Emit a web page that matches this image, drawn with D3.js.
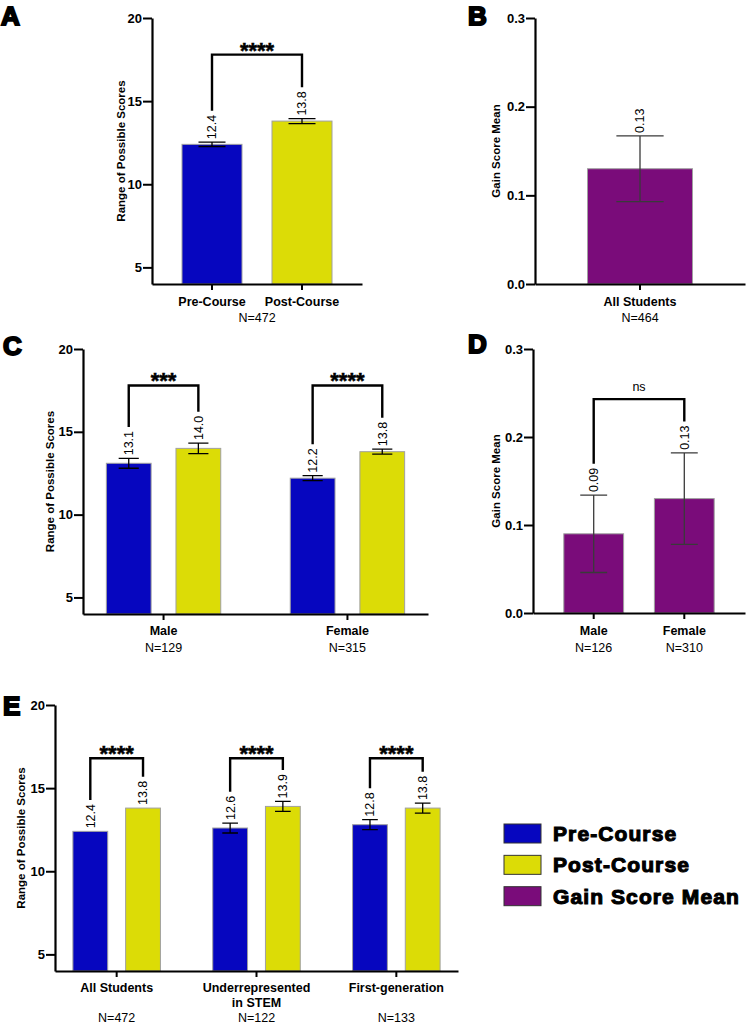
<!DOCTYPE html>
<html><head><meta charset="utf-8">
<script src="https://cdn.jsdelivr.net/npm/d3@7"></script>
<style>body{margin:0;background:#fff}svg{display:block}</style>
</head><body><svg id="chart" width="746" height="1024"></svg>
<script>
// ---------- DATA ----------
const scoreTicks = [5, 10, 15, 20];
const gainTicks = [0, 0.1, 0.2, 0.3];

// Panel A
const aCategories = ["Pre-Course", "Post-Course"];
const aMeans = [12.4, 13.8];
const aErrors = [0.13, 0.15];
const aSig = "****";
const aN = "N=472";

// Panel B
const bCategories = ["All Students"];
const bMeans = [0.13];
const bErrors = [0.037];
const bN = "N=464";

// Panel C
const cGroups = ["Male", "Female"];
const cPre = [13.1, 12.2];
const cPost = [14.0, 13.8];
const cPreErr = [0.3, 0.15];
const cPostErr = [0.32, 0.15];
const cSig = ["***", "****"];
const cN = ["N=129", "N=315"];

// Panel D
const dGroups = ["Male", "Female"];
const dMeans = [0.09, 0.13];
const dErrors = [0.044, 0.052];
const dSig = "ns";
const dN = ["N=126", "N=310"];

// Panel E
const eGroups = ["All Students", "Underrepresented\nin STEM", "First-generation"];
const ePre = [12.4, 12.6, 12.8];
const ePost = [13.8, 13.9, 13.8];
const ePreErr = [0, 0.3, 0.3];
const ePostErr = [0, 0.3, 0.3];
const eSig = ["****", "****", "****"];
const eN = ["N=472", "N=122", "N=133"];

// Legend
const legendItems = ["Pre-Course", "Post-Course", "Gain Score Mean"];

// ---------- STYLE ----------
const BLUE = "#0606BF", YELLOW = "#DCDC06", PURPLE = "#7A0C7A";
const FONT = "'Liberation Sans', Arial, sans-serif";
const svg = d3.select("#chart");
const fmt1 = d3.format(".1f"), fmt2 = d3.format(".2f");

function yAxis(x0, y, ticks, tf, title, titleOffset) {
  const g = svg.append("g").attr("transform", `translate(${x0},0)`)
    .call(d3.axisLeft(y).tickValues(ticks).tickFormat(tf).tickSize(9).tickSizeOuter(0).tickPadding(1));
  g.select(".domain").attr("stroke", "#000").attr("stroke-width", 2.2);
  g.selectAll(".tick line").attr("stroke", "#000").attr("stroke-width", 2);
  g.selectAll(".tick text").attr("font-family", FONT).attr("font-weight", "bold").attr("font-size", 13).attr("fill", "#000");
  const [b, t] = y.range();
  svg.append("text").attr("transform", `translate(${x0 + titleOffset},${(b + t) / 2}) rotate(-90)`)
    .attr("text-anchor", "middle").attr("dy", "0.35em")
    .attr("font-family", FONT).attr("font-weight", "bold").attr("font-size", 11.5).text(title);
}
function xAxis(yb, band) {
  const g = svg.append("g").attr("transform", `translate(0,${yb})`)
    .call(d3.axisBottom(band).tickSize(6).tickSizeOuter(0).tickFormat(""));
  g.select(".domain").attr("stroke", "#000").attr("stroke-width", 2.2);
  g.selectAll(".tick line").attr("stroke", "#000").attr("stroke-width", 2);
}
function catLabel(x, yb, text, bold, size) {
  const lines = text.split("\n");
  const t = svg.append("text").attr("x", x).attr("y", yb).attr("text-anchor", "middle")
    .attr("font-family", FONT).attr("font-weight", bold ? "bold" : "normal").attr("font-size", size || 12.5);
  lines.forEach((l, i) => t.append("tspan").attr("x", x).attr("dy", i ? 15 : 0).text(l));
}
// draws bar + error bar + rotated value label; returns label top y
function bar(x, w, y, v, e, color, fmt, errColor) {
  const y0 = y.range()[0];
  svg.append("rect").attr("x", x).attr("y", y(v)).attr("width", w).attr("height", y0 - y(v))
    .attr("fill", color).attr("stroke", "#a0a0a0").attr("stroke-width", 1);
  const cx = x + w / 2, cw = w * 0.45;
  if (e > 0) {
    const ec = errColor || "#000";
    const p = d3.path();
    p.moveTo(cx, y(v - e)); p.lineTo(cx, y(v + e));
    p.moveTo(cx - cw / 2, y(v + e)); p.lineTo(cx + cw / 2, y(v + e));
    p.moveTo(cx - cw / 2, y(v - e)); p.lineTo(cx + cw / 2, y(v - e));
    svg.append("path").attr("d", p.toString()).attr("stroke", ec).attr("stroke-width", 1.3).attr("fill", "none");
  }
  const ly = y(v + e) - 3;
  const t = svg.append("text").attr("transform", `translate(${cx},${ly}) rotate(-90)`)
    .attr("dy", "0.35em").attr("font-family", FONT).attr("font-size", 12.5).text(fmt(v));
  return ly - t.node().getComputedTextLength();
}
function bracket(x1, x2, l1, l2, top, sig) {
  svg.append("path").attr("d", `M${x1},${l1 - 4}V${top}H${x2}V${l2 - 4}`)
    .attr("stroke", "#000").attr("stroke-width", 2.4).attr("fill", "none");
  if (sig === "ns") {
    svg.append("text").attr("x", (x1 + x2) / 2).attr("y", top - 8).attr("text-anchor", "middle")
      .attr("font-family", FONT).attr("font-size", 12.5).text(sig);
  } else {
    svg.append("text").attr("x", (x1 + x2) / 2).attr("y", top + 3).attr("text-anchor", "middle")
      .attr("font-family", FONT).attr("font-weight", "bold").attr("font-size", 22)
      .attr("stroke", "#000").attr("stroke-width", 0.5).text(sig);
  }
}
function panelLetter(x, yb, L) {
  svg.append("text").attr("x", x).attr("y", yb).attr("font-family", FONT).attr("font-weight", "bold")
    .attr("font-size", 26).attr("stroke", "#000").attr("stroke-width", 2).text(L);
}

// ---------- PANEL A ----------
{
  const y = d3.scaleLinear().domain([4, 20]).range([284, 18]);
  const x = d3.scaleBand().domain(aCategories).range([152, 362]).paddingInner(1 / 3).paddingOuter(1 / 3);
  const cols = [BLUE, YELLOW];
  const tops = aCategories.map((c, i) => bar(x(c), x.bandwidth(), y, aMeans[i], aErrors[i], cols[i], fmt1));
  xAxis(284, x);
  yAxis(152, y, scoreTicks, d3.format("d"), "Range of Possible Scores", -31);
  const c0 = x(aCategories[0]) + x.bandwidth() / 2, c1 = x(aCategories[1]) + x.bandwidth() / 2;
  bracket(c0, c1, tops[0], tops[1], y(17.8), aSig);
  aCategories.forEach(c => catLabel(x(c) + x.bandwidth() / 2, 306, c, true));
  catLabel(257, 322, aN, false);
  panelLetter(1, 25, "A");
}
// ---------- PANEL B ----------
{
  const y = d3.scaleLinear().domain([0, 0.3]).range([284, 18]);
  const x = d3.scaleBand().domain(bCategories).range([535, 745]).paddingInner(0.5).paddingOuter(0.25);
  bCategories.forEach((c, i) => bar(x(c), x.bandwidth(), y, bMeans[i], bErrors[i], PURPLE, fmt2, "#3a3a3a"));
  xAxis(284, x);
  yAxis(535, y, gainTicks, d3.format(".1f"), "Gain Score Mean", -39);
  bCategories.forEach(c => catLabel(x(c) + x.bandwidth() / 2, 306, c, true));
  catLabel(640, 322, bN, false);
  panelLetter(468, 25, "B");
}
// ---------- PANEL C ----------
{
  const y = d3.scaleLinear().domain([4, 20]).range([614, 349]);
  const gx = d3.scaleBand().domain(cGroups).range([83, 428]).paddingInner(0.378).paddingOuter(0.127);
  const sx = d3.scaleBand().domain(["pre", "post"]).range([0, gx.bandwidth()]).paddingInner(25 / 70);
  cGroups.forEach((g, i) => {
    const gx0 = gx(g);
    const t0 = bar(gx0 + sx("pre"), sx.bandwidth(), y, cPre[i], cPreErr[i], BLUE, fmt1);
    const t1 = bar(gx0 + sx("post"), sx.bandwidth(), y, cPost[i], cPostErr[i], YELLOW, fmt1);
    bracket(gx0 + sx("pre") + sx.bandwidth() / 2, gx0 + sx("post") + sx.bandwidth() / 2, t0, t1, y(17.8), cSig[i]);
    catLabel(gx0 + gx.bandwidth() / 2, 635, g, true);
    catLabel(gx0 + gx.bandwidth() / 2, 652, cN[i], false);
  });
  xAxis(614, gx);
  yAxis(83, y, scoreTicks, d3.format("d"), "Range of Possible Scores", -33);
  panelLetter(3, 355, "C");
}
// ---------- PANEL D ----------
{
  const y = d3.scaleLinear().domain([0, 0.3]).range([613, 349]);
  const x = d3.scaleBand().domain(dGroups).range([533, 745]).paddingInner(0.34).paddingOuter(0.34);
  const tops = dGroups.map((g, i) => bar(x(g), x.bandwidth(), y, dMeans[i], dErrors[i], PURPLE, fmt2, "#3a3a3a"));
  xAxis(613, x);
  yAxis(533, y, gainTicks, d3.format(".1f"), "Gain Score Mean", -37);
  bracket(x(dGroups[0]) + x.bandwidth() / 2, x(dGroups[1]) + x.bandwidth() / 2, tops[0], tops[1], y(0.243), dSig);
  dGroups.forEach((g, i) => {
    catLabel(x(g) + x.bandwidth() / 2, 635, g, true);
    catLabel(x(g) + x.bandwidth() / 2, 652, dN[i], false);
  });
  panelLetter(468, 353, "D");
}
// ---------- PANEL E ----------
{
  const y = d3.scaleLinear().domain([4, 20]).range([971, 705]);
  const gx = d3.scaleBand().domain(eGroups).range([55, 458]).paddingInner(0.374).paddingOuter(0.128);
  const sx = d3.scaleBand().domain(["pre", "post"]).range([0, gx.bandwidth()]).paddingInner(18 / 53);
  eGroups.forEach((g, i) => {
    const gx0 = gx(g);
    const t0 = bar(gx0 + sx("pre"), sx.bandwidth(), y, ePre[i], ePreErr[i], BLUE, fmt1);
    const t1 = bar(gx0 + sx("post"), sx.bandwidth(), y, ePost[i], ePostErr[i], YELLOW, fmt1);
    bracket(gx0 + sx("pre") + sx.bandwidth() / 2, gx0 + sx("post") + sx.bandwidth() / 2, t0, t1, y(16.8), eSig[i]);
    catLabel(gx0 + gx.bandwidth() / 2, 992, g, true);
    catLabel(gx0 + gx.bandwidth() / 2, 1022, eN[i], false);
  });
  xAxis(971, gx);
  yAxis(55, y, scoreTicks, d3.format("d"), "Range of Possible Scores", -34);
  panelLetter(3, 715, "E");
}
// ---------- LEGEND ----------
{
  const colors = [BLUE, YELLOW, PURPLE];
  const ly = d3.scaleBand().domain(legendItems).range([824, 908]).paddingInner(0.32);
  legendItems.forEach((item, i) => {
    svg.append("rect").attr("x", 504).attr("y", ly(item)).attr("width", 37).attr("height", 19)
      .attr("fill", colors[i]).attr("stroke", "#333").attr("stroke-width", 1);
    svg.append("text").attr("x", 553).attr("y", ly(item) + 17).attr("font-family", FONT)
      .attr("font-weight", "bold").attr("font-size", 21).attr("letter-spacing", 1.1)
      .attr("stroke", "#000").attr("stroke-width", 1.1).text(item);
  });
}
</script></body></html>
